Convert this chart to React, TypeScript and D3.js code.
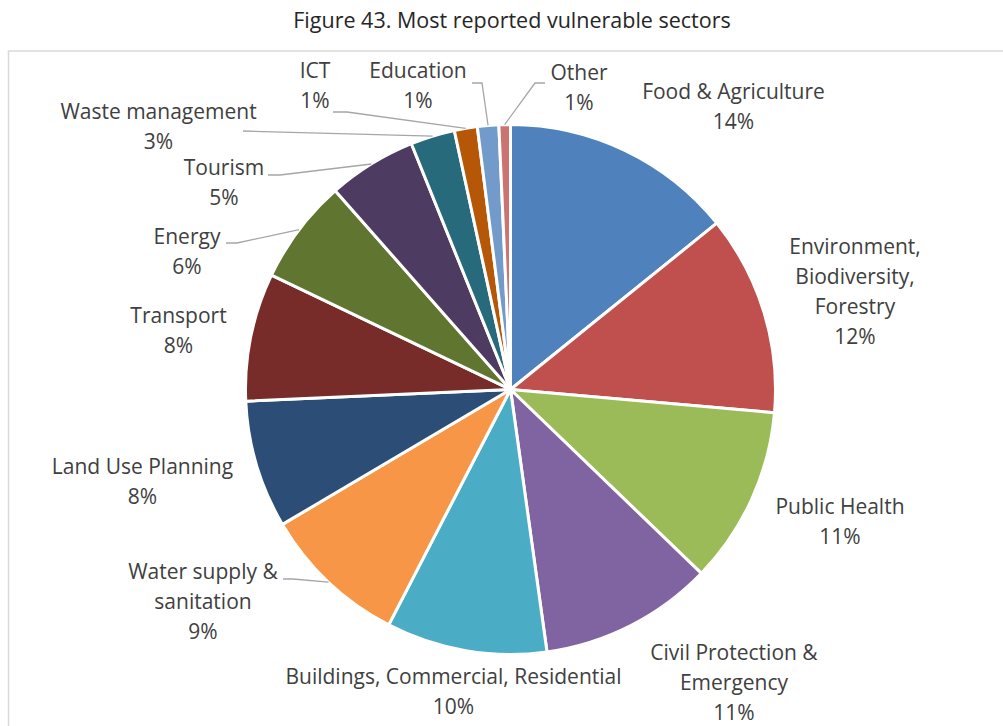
import React from "react";
import * as d3 from "d3";

const categories = [
  "Food & Agriculture",
  "Environment, Biodiversity, Forestry",
  "Public Health",
  "Civil Protection & Emergency",
  "Buildings, Commercial, Residential",
  "Water supply & sanitation",
  "Land Use Planning",
  "Transport",
  "Energy",
  "Tourism",
  "Waste management",
  "ICT",
  "Education",
  "Other",
];
const shares = [14.2, 12.2, 10.8, 10.6, 9.8, 8.9, 7.8, 7.8, 6.4, 5.4, 2.7, 1.4, 1.3, 0.7];
const colors = [
  "#4F81BD", "#C0504D", "#9BBB59", "#8064A2", "#4BACC6", "#F79646", "#2C4D75",
  "#772C2A", "#5F7530", "#4D3B62", "#276A7C", "#B65708", "#729ACA", "#CD7371",
];
const title = "Figure 43. Most reported vulnerable sectors";

// layout: label centre x, first line centre y, words per line, leader start points
const labelLayout = [
  { cx: 733.5, cy: 92, lines: [3] },
  { cx: 855, cy: 247, lines: [1, 1, 1] },
  { cx: 840, cy: 507, lines: [2] },
  { cx: 734, cy: 653, lines: [3, 1] },
  { cx: 453.5, cy: 677, lines: [3] },
  { cx: 203, cy: 572, lines: [3, 1], leader: [[283, 579], [293, 579]] },
  { cx: 142.5, cy: 467, lines: [3] },
  { cx: 178.5, cy: 316, lines: [1] },
  { cx: 187, cy: 237, lines: [1], leader: [[226, 243], [237, 243]] },
  { cx: 224, cy: 168, lines: [1], leader: [[268, 175], [280, 175]] },
  { cx: 158.5, cy: 112, lines: [2], leader: [[243, 131]] },
  { cx: 315, cy: 71, lines: [1], leader: [[333, 112], [347, 112]] },
  { cx: 418, cy: 71, lines: [1], leader: [[472, 83], [482, 83]] },
  { cx: 579, cy: 73, lines: [1], leader: [[545, 83], [535, 83]] },
];

const W = 1003;
const H = 726;
const CX = 510.5;
const CY = 389.5;
const R = 265;
const LINE_H = 30;
const FONT = "'Open Sans', 'Noto Sans', sans-serif";

export default function App() {
  const data = categories.map((c, i) => ({ name: c, value: shares[i], i }));
  const total = d3.sum(shares);
  const pie = d3.pie<any>().sort(null).value((d: any) => d.value);
  const arcs = pie(data);
  const arc = d3.arc<any>().innerRadius(0).outerRadius(R);
  const fmt = (v: number) => `${Math.round((v / total) * 100)}%`;

  const splitLines = (name: string, counts: number[]) => {
    const words = name.split(" ");
    const out: string[] = [];
    let k = 0;
    counts.forEach((n) => {
      out.push(words.slice(k, k + n).join(" "));
      k += n;
    });
    return out;
  };

  return (
    <svg
      width={W}
      height={H}
      style={{ position: "absolute", left: 0, top: 0, background: "#fff" }}
      fontFamily={FONT}
    >
      <text x={512} y={20} dy="0.35em" textAnchor="middle" fontSize={21.5} fill="#262626">
        {title}
      </text>
      <rect x={8.5} y={51} width={W + 20} height={H + 20} fill="none" stroke="#D9D9D9" strokeWidth={1.5} />
      <g transform={`translate(${CX},${CY})`}>
        {arcs.map((a, i) => (
          <path key={i} d={arc(a) as string} fill={colors[i]} stroke="#fff" strokeWidth={3} strokeLinejoin="round" />
        ))}
      </g>
      {arcs.map((a, i) => {
        const L: any = labelLayout[i];
        if (!L.leader) return null;
        const mid = (a.startAngle + a.endAngle) / 2;
        const ex = CX + R * Math.sin(mid);
        const ey = CY - R * Math.cos(mid);
        const pts = [...L.leader, [ex, ey]];
        return (
          <polyline
            key={"l" + i}
            points={pts.map((p: number[]) => p.join(",")).join(" ")}
            fill="none"
            stroke="#A6A6A6"
            strokeWidth={1.3}
          />
        );
      })}
      {arcs.map((a, i) => {
        const L = labelLayout[i];
        const lines = [...splitLines(categories[i], L.lines), fmt(shares[i])];
        return (
          <text key={"t" + i} textAnchor="middle" fontSize={21} fill="#404040">
            {lines.map((ln, j) => (
              <tspan key={j} x={L.cx} y={L.cy + j * LINE_H} dy="0.35em">
                {ln}
              </tspan>
            ))}
          </text>
        );
      })}
    </svg>
  );
}
